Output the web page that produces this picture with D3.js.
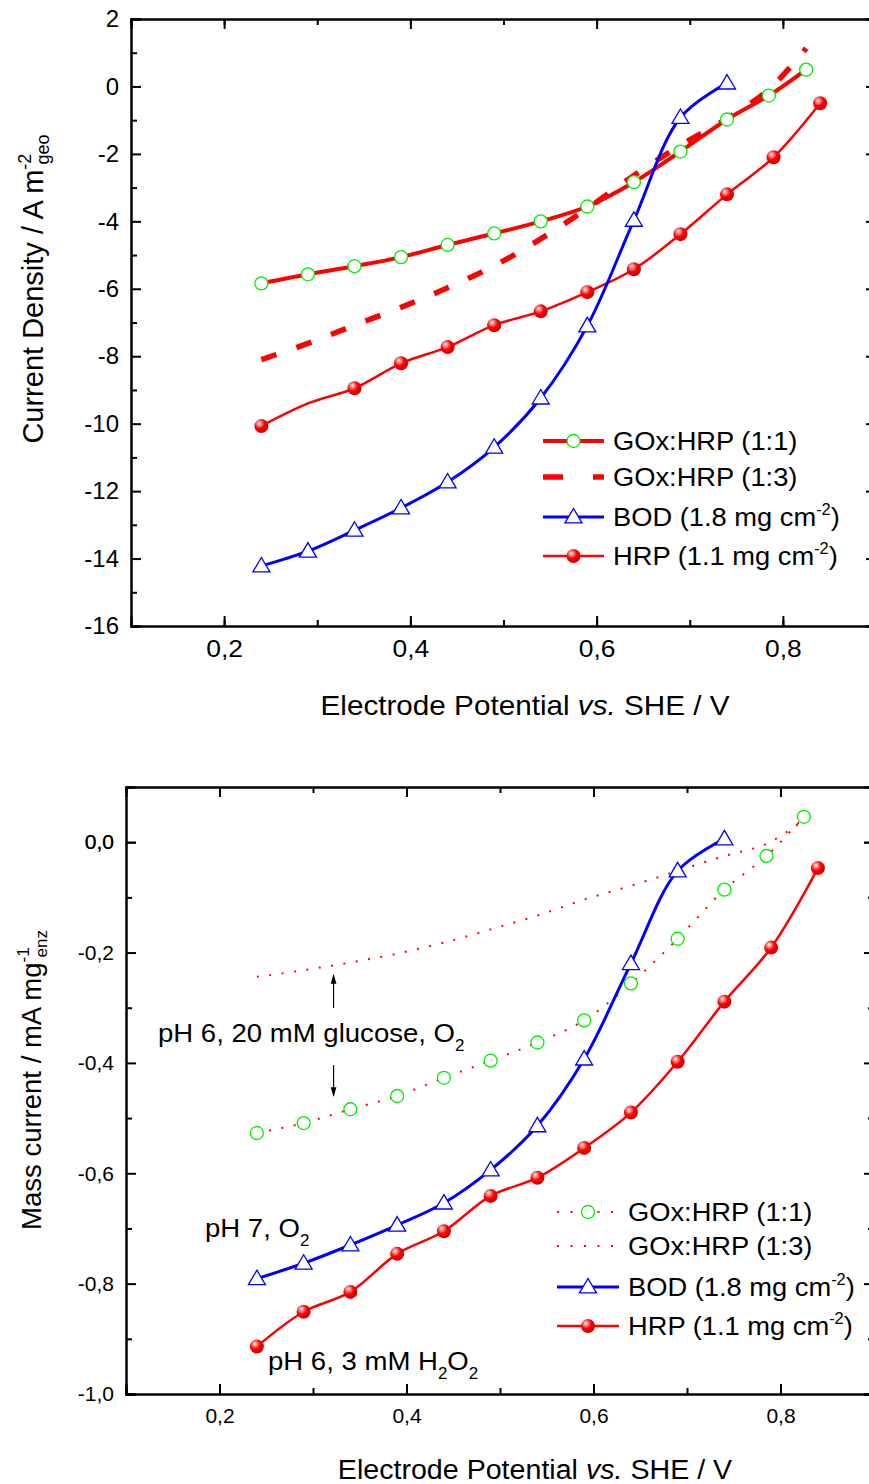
<!DOCTYPE html>
<html>
<head>
<meta charset="utf-8">
<script src="https://cdn.jsdelivr.net/npm/d3@7"></script>
<style>
  body { margin: 0; background: #fff; }
  svg { display: block; font-family: "Liberation Sans", Arial, sans-serif; }
</style>
</head>
<body>
<div id="chart"></div>
<script>
// potentials (V vs SHE)
var potentials = [0.24, 0.29, 0.34, 0.39, 0.44, 0.49, 0.54, 0.59, 0.64, 0.69, 0.74, 0.79, 0.84];
var potentialsGox = [0.24, 0.29, 0.34, 0.39, 0.44, 0.49, 0.54, 0.59, 0.64, 0.69, 0.74, 0.785, 0.825];
var potentialsBod = [0.24, 0.29, 0.34, 0.39, 0.44, 0.49, 0.54, 0.59, 0.64, 0.69, 0.74];

// top panel : current density / A m-2
var densGox11 = [-5.84, -5.57, -5.33, -5.06, -4.70, -4.36, -4.00, -3.56, -2.84, -1.93, -0.98, -0.27, 0.50];
var densGox13 = [-8.10, -7.62, -7.08, -6.55, -5.97, -5.32, -4.52, -3.62, -2.64, -1.75, -0.95, -0.09, 1.13];
var densBod = [-14.22, -13.78, -13.16, -12.50, -11.73, -10.70, -9.24, -7.10, -3.97, -0.92, 0.10];
var densHrp = [-10.07, -9.40, -8.95, -8.21, -7.73, -7.08, -6.67, -6.10, -5.42, -4.38, -3.20, -2.10, -0.50];

// bottom panel : mass current / mA mg-1
var massGox11 = [-0.527, -0.509, -0.484, -0.460, -0.427, -0.396, -0.363, -0.323, -0.256, -0.175, -0.086, -0.025, 0.046];
var massGox13 = [-0.244, -0.232, -0.218, -0.202, -0.182, -0.158, -0.133, -0.104, -0.079, -0.052, -0.025, -0.003, 0.040];
var massBod = [-0.791, -0.763, -0.730, -0.694, -0.654, -0.594, -0.514, -0.393, -0.220, -0.052, 0.006];
var massHrp = [-0.914, -0.851, -0.815, -0.746, -0.705, -0.641, -0.608, -0.554, -0.490, -0.398, -0.289, -0.191, -0.047];

// the top HRP curve has no symbol at 0.29 V
var hrpTopNoMarker = [0.29];

var legendNames = ["GOx:HRP (1:1)", "GOx:HRP (1:3)", "BOD (1.8 mg cm", "HRP (1.1 mg cm"];

var W = 869, H = 1484;
var svg = d3.select("#chart").append("svg").attr("width", W).attr("height", H);

var defs = svg.append("defs");
var grad = defs.append("radialGradient").attr("id", "ball")
  .attr("cx", "38%").attr("cy", "35%").attr("r", "65%").attr("fx", "35%").attr("fy", "30%");
grad.append("stop").attr("offset", "0%").attr("stop-color", "#ffffff");
grad.append("stop").attr("offset", "25%").attr("stop-color", "#ff8080");
grad.append("stop").attr("offset", "55%").attr("stop-color", "#ff0000");
grad.append("stop").attr("offset", "100%").attr("stop-color", "#d00000");

function zip(xs, ys) { return xs.map(function(x, i) { return [x, ys[i]]; }); }

function fmt(d, digits) {
  return d3.format("." + digits + "f")(d).replace("−", "-").replace(".", ",");
}

function drawCircle(g, cx, cy) {
  g.append("circle").attr("cx", cx).attr("cy", cy).attr("r", 6.5)
    .attr("fill", "#fff").attr("stroke", "#00ee00").attr("stroke-width", 1.3);
}
function drawTriangle(g, cx, cy) {
  var s = 8.5;
  g.append("path")
    .attr("d", "M" + cx + "," + (cy - s) + "L" + (cx + s) + "," + (cy + s * 0.7) + "L" + (cx - s) + "," + (cy + s * 0.7) + "Z")
    .attr("fill", "#fff").attr("stroke", "#0000ff").attr("stroke-width", 1.3);
}
function drawBall(g, cx, cy) {
  g.append("circle").attr("cx", cx).attr("cy", cy).attr("r", 7)
    .attr("fill", "url(#ball)");
}

function panel(cfg) {
  var x = d3.scaleLinear().domain([0.1, 0.9]).range(cfg.xr);
  var y = d3.scaleLinear().domain(cfg.yd).range(cfg.yr);
  var g = svg.append("g");
  var line = d3.line().x(function(d) { return x(d[0]); }).y(function(d) { return y(d[1]); })
    .curve(d3.curveCatmullRom.alpha(0.5));

  cfg.series.forEach(function(s) {
    g.append("path").datum(s.pts).attr("d", line)
      .attr("fill", "none").attr("stroke", s.color).attr("stroke-width", s.width)
      .attr("stroke-dasharray", s.dash || null);
  });
  cfg.series.forEach(function(s) {
    if (!s.marker) return;
    s.pts.forEach(function(p) {
      if (s.skip && s.skip.indexOf(p[0]) >= 0) return;
      s.marker(g, x(p[0]), y(p[1]));
    });
  });

  // axes with inward ticks
  var xt = d3.range(0.2, 0.81, 0.2), xm = d3.range(0.1, 0.91, 0.1);
  var yt = cfg.yticks, ym = cfg.yminor;
  function styleAx(a) {
    a.select(".domain").attr("stroke-width", 2);
    a.selectAll(".tick line").attr("stroke-width", 2);
    a.selectAll("text").attr("font-size", cfg.tickFont).attr("fill", "#000")
      .attr("font-family", "Liberation Sans, Arial, sans-serif");
  }
  var bot = g.append("g").attr("transform", "translate(0," + cfg.yr[0] + ")")
    .call(d3.axisBottom(x).tickValues(xt).tickSize(-10).tickPadding(cfg.xPad).tickFormat(function(d) { return fmt(d, 1); }));
  styleAx(bot);
  bot.selectAll("text").attr("font-size", cfg.xTickFont).attr("transform", "scale(" + cfg.xTickStretch + ",1)");
  g.append("g").attr("transform", "translate(0," + cfg.yr[0] + ")")
    .call(d3.axisBottom(x).tickValues(xm).tickSize(-6).tickFormat("")).call(styleAx);
  g.append("g").attr("transform", "translate(0," + cfg.yr[1] + ")")
    .call(d3.axisTop(x).tickValues(xt).tickSize(-10).tickFormat("")).call(styleAx);
  g.append("g").attr("transform", "translate(0," + cfg.yr[1] + ")")
    .call(d3.axisTop(x).tickValues(xm).tickSize(-6).tickFormat("")).call(styleAx);
  var left = g.append("g").attr("transform", "translate(" + cfg.xr[0] + ",0)")
    .call(d3.axisLeft(y).tickValues(yt).tickSize(-10).tickPadding(cfg.yPad).tickFormat(cfg.yfmt));
  styleAx(left);
  g.append("g").attr("transform", "translate(" + cfg.xr[0] + ",0)")
    .call(d3.axisLeft(y).tickValues(ym).tickSize(-6).tickFormat("")).call(styleAx);
  g.append("g").attr("transform", "translate(" + cfg.xr[1] + ",0)")
    .call(d3.axisRight(y).tickValues(yt).tickSize(-10).tickFormat("")).call(styleAx);
  g.append("g").attr("transform", "translate(" + cfg.xr[1] + ",0)")
    .call(d3.axisRight(y).tickValues(ym).tickSize(-6).tickFormat("")).call(styleAx);

  // x title
  var xtT = g.append("g").attr("transform", "translate(" + cfg.xTitle[0] + "," + cfg.xTitle[1] + ") scale(1.06,1)")
    .append("text").attr("text-anchor", "middle").attr("font-size", cfg.xTitleFont);
  xtT.append("tspan").text("Electrode Potential ");
  xtT.append("tspan").attr("font-style", "italic").text("vs.");
  xtT.append("tspan").text(" SHE / V");

  // y title
  var f = cfg.yTitleFont;
  var ytT = g.append("text").attr("transform", "translate(" + cfg.yTitle[0] + "," + cfg.yTitle[1] + ") rotate(-90)")
    .attr("text-anchor", "middle").attr("font-size", f);
  ytT.append("tspan").text(cfg.yName);
  ytT.append("tspan").attr("font-size", f * 0.62).attr("dy", -f * 0.42).text(cfg.ySup);
  ytT.append("tspan").attr("font-size", f * 0.62).attr("dx", -f * 0.37).attr("dy", f * 0.63).text(cfg.ySub);

  // legend
  var lg = g.append("g");
  cfg.legend.forEach(function(r, i) {
    var ly = cfg.legY[i];
    lg.append("line").attr("x1", cfg.legX[0]).attr("x2", cfg.legX[1]).attr("y1", ly).attr("y2", ly)
      .attr("stroke", r.color).attr("stroke-width", r.width).attr("stroke-dasharray", r.dash || null)
      .attr("stroke-dashoffset", r.offset || 0);
    if (r.marker) r.marker(lg, (cfg.legX[0] + cfg.legX[1]) / 2, ly);
    var t = lg.append("g").attr("transform", "translate(" + (cfg.legX[1] + 9) + "," + (ly + cfg.legFont * 0.36) + ") scale(1.05,1)")
      .append("text").attr("font-size", cfg.legFont).text(legendNames[i]);
    if (r.sup) {
      t.append("tspan").attr("font-size", cfg.legFont * 0.6).attr("dy", -cfg.legFont * 0.45).text(r.sup);
      t.append("tspan").attr("dy", cfg.legFont * 0.45).text(")");
    }
  });
  return { g: g, x: x, y: y };
}

var top = panel({
  xr: [131, 876], yd: [-16, 2], yr: [626, 19],
  yticks: d3.range(-16, 2.1, 2), yminor: d3.range(-15, 2, 2),
  yfmt: function(d) { return String(d); },
  tickFont: 24, xTickFont: 24, xTickStretch: 1.1, xPad: 14, yPad: 12,
  xTitleFont: 28, yTitleFont: 29,
  xTitle: [525, 715], yTitle: [43, 289],
  yName: "Current Density / A m", ySup: "-2", ySub: "geo",
  series: [
    { pts: zip(potentialsGox, densGox13), color: "#ff0000", width: 5.5, dash: "16,21" },
    { pts: zip(potentialsGox, densGox11), color: "#ff0000", width: 4, marker: drawCircle },
    { pts: zip(potentials, densHrp), color: "#ff0000", width: 2.5, marker: drawBall, skip: hrpTopNoMarker },
    { pts: zip(potentialsBod, densBod), color: "#0000ff", width: 3, marker: drawTriangle }
  ],
  legX: [543, 604], legY: [441, 477, 517, 556], legFont: 26,
  legend: [
    { color: "#ff0000", width: 4, marker: drawCircle },
    { color: "#ff0000", width: 5.5, dash: "20,30", offset: 0 },
    { color: "#0000ff", width: 3, marker: drawTriangle, sup: "-2" },
    { color: "#ff0000", width: 2.5, marker: drawBall, sup: "-2" }
  ]
});

var bottom = panel({
  xr: [126, 874], yd: [-1.0, 0.1], yr: [1394, 787],
  yticks: d3.range(-1.0, 0.01, 0.2).concat([0]), yminor: d3.range(-0.9, 0.11, 0.2),
  yfmt: function(d) { return fmt(d, 1); },
  tickFont: 21, xTickFont: 21, xTickStretch: 1, xPad: 14, yPad: 12,
  xTitleFont: 27, yTitleFont: 27.5,
  xTitle: [535, 1479], yTitle: [41, 1080],
  yName: "Mass current / mA mg", ySup: "-1", ySub: "enz",
  series: [
    { pts: zip(potentialsGox, massGox13), color: "#ff0000", width: 2, dash: "2,10.5" },
    { pts: zip(potentialsGox, massGox11), color: "#ff0000", width: 2, dash: "2,10.5", marker: drawCircle },
    { pts: zip(potentials, massHrp), color: "#ff0000", width: 2.5, marker: drawBall },
    { pts: zip(potentialsBod, massBod), color: "#0000ff", width: 3, marker: drawTriangle }
  ],
  legX: [557, 619], legY: [1212, 1246, 1287, 1326], legFont: 26,
  legend: [
    { color: "#ff0000", width: 2, dash: "2,11.5", marker: drawCircle },
    { color: "#ff0000", width: 2, dash: "2,11.5" },
    { color: "#0000ff", width: 3, marker: drawTriangle, sup: "-2" },
    { color: "#ff0000", width: 2.5, marker: drawBall, sup: "-2" }
  ]
});

// annotations on the lower panel
function note(xp, yp, parts) {
  var t = svg.append("g").attr("transform", "translate(" + xp + "," + yp + ") scale(1.06,1)")
    .append("text").attr("font-size", 26);
  parts.forEach(function(p) {
    var s = t.append("tspan").text(p[0]);
    if (p[1] === "sub") s.attr("font-size", 16).attr("dy", 9);
    if (p[1] === "back") s.attr("dy", -9);
  });
}
note(158, 1042, [["pH 6, 20 mM glucose, O"], ["2", "sub"]]);
note(205, 1237, [["pH 7, O"], ["2", "sub"]]);
note(268, 1370, [["pH 6, 3 mM H"], ["2", "sub"], ["O", "back"], ["2", "sub"]]);

defs.append("marker").attr("id", "arr").attr("viewBox", "0 0 10 10").attr("refX", 9).attr("refY", 5)
  .attr("markerWidth", 8).attr("markerHeight", 10).attr("orient", "auto")
  .append("path").attr("d", "M0,2L10,5L0,8Z").attr("fill", "#000");
var arrX = bottom.x(0.322);
svg.append("line").attr("x1", arrX).attr("x2", arrX).attr("y1", 1008).attr("y2", 975)
  .attr("stroke", "#000").attr("stroke-width", 1.2).attr("marker-end", "url(#arr)");
svg.append("line").attr("x1", arrX).attr("x2", arrX).attr("y1", 1065).attr("y2", 1096)
  .attr("stroke", "#000").attr("stroke-width", 1.2).attr("marker-end", "url(#arr)");
</script>
</body>
</html>
